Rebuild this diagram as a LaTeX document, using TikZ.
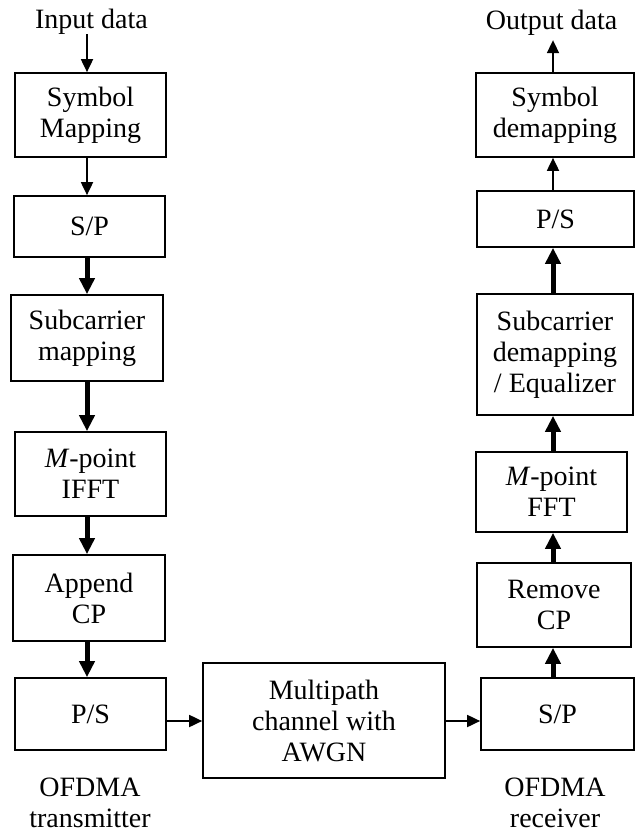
\documentclass[tikz,border=0pt]{standalone}
\usepackage{fontspec}
\setmainfont{Liberation Serif}
\usetikzlibrary{arrows.meta}
\begin{document}
\begin{tikzpicture}[x=1pt,y=-1pt,
  blk/.style={draw,line width=1.7pt,align=center,inner sep=0pt,font=\fontsize{28}{31}\selectfont},
  lbl/.style={align=center,inner sep=0pt,font=\fontsize{28}{31}\selectfont},
  thinarr/.style={line width=1.8pt,-{Triangle[length=13pt,width=12pt]}},
  thkarr/.style={line width=5pt,-{Triangle[length=16pt,width=15pt]}}]
\useasboundingbox (0,0) rectangle (635,833);
\coordinate (lx) at (87,0);
\coordinate (rx) at (553,0);
\coordinate (hy) at (0,721);
% labels
\node[lbl,anchor=base] (in) at (91.5,28) {Input data};
\node[lbl,anchor=base] (out) at (551.5,29) {Output data};
\node[lbl,anchor=north] (tx) at (90,778) {OFDMA\\transmitter};
\node[lbl,anchor=north] (rx0) at (555,778) {OFDMA\\receiver};
% left column
\node[blk,minimum width=151pt,minimum height=84pt] (sm) at (90.5,115) {Symbol\\Mapping};
\node[blk,minimum width=151pt,minimum height=61pt] (sp1) at (89.5,226.5) {S/P};
\node[blk,minimum width=152pt,minimum height=86pt] (scm) at (87,338) {Subcarrier\\mapping};
\node[blk,minimum width=151pt,minimum height=84pt] (ifft) at (90.5,474) {\textit{M}-point\\IFFT};
\node[blk,minimum width=152pt,minimum height=86pt] (acp) at (89,598) {Append\\CP};
\node[blk,minimum width=151pt,minimum height=72pt] (ps1) at (90.5,714) {P/S};
% channel
\node[blk,minimum width=242pt,minimum height=115pt] (mp) at (324,720.5) {Multipath\\channel with\\AWGN};
% right column
\node[blk,minimum width=153pt,minimum height=72pt] (sp2) at (557.5,714) {S/P};
\node[blk,minimum width=154pt,minimum height=84pt] (rcp) at (554,605) {Remove\\CP};
\node[blk,minimum width=151pt,minimum height=80pt] (fft) at (551.5,492) {\textit{M}-point\\FFT};
\node[blk,minimum width=156pt,minimum height=121pt] (scd) at (555,354.5) {Subcarrier\\demapping\\/ Equalizer};
\node[blk,minimum width=157pt,minimum height=56pt] (ps2) at (555.5,219) {P/S};
\node[blk,minimum width=158pt,minimum height=84pt] (sd) at (555,115) {Symbol\\demapping};
% left arrows
\draw[thinarr] (in.south -| lx) -- (sm.north -| lx);
\draw[thinarr] (sm.south -| lx) -- (sp1.north -| lx);
\draw[thkarr] (sp1.south -| lx) -- (scm.north -| lx);
\draw[thkarr] (scm.south -| lx) -- (ifft.north -| lx);
\draw[thkarr] (ifft.south -| lx) -- (acp.north -| lx);
\draw[thkarr] (acp.south -| lx) -- (ps1.north -| lx);
% horizontal arrows
\draw[thinarr] (ps1.east |- hy) -- (mp.west |- hy);
\draw[thinarr] (mp.east |- hy) -- (sp2.west |- hy);
% right arrows
\draw[thkarr] (sp2.north -| rx) -- (rcp.south -| rx);
\draw[thkarr] (rcp.north -| rx) -- (fft.south -| rx);
\draw[thkarr] (fft.north -| rx) -- (scd.south -| rx);
\draw[thkarr] (scd.north -| rx) -- (ps2.south -| rx);
\draw[thinarr] (ps2.north -| rx) -- (sd.south -| rx);
\draw[thinarr] (sd.north -| rx) -- ([yshift=-5pt]out.south -| rx);
\end{tikzpicture}
\end{document}
